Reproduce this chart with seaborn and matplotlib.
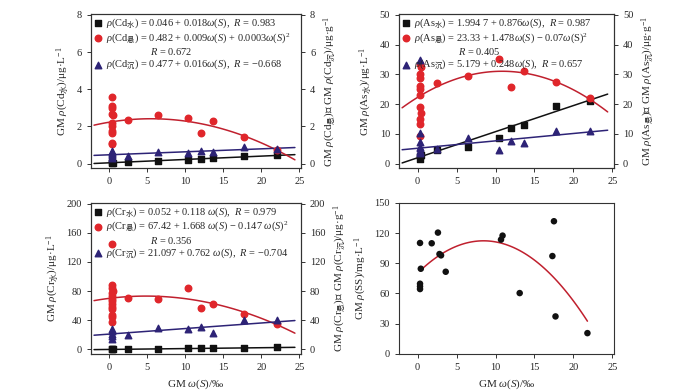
import matplotlib
matplotlib.use("Agg")
import matplotlib.pyplot as plt
from matplotlib.lines import Line2D
import seaborn as sns
import pandas as pd

# ---- data ----
# Cd panel
cd_water_x = [0.3, 0.4, 0.5, 2.5, 6.4, 10.4, 12.0, 13.6, 17.7, 22.1]
cd_water_y = [0.05, 0.08, 0.06, 0.10, 0.16, 0.22, 0.26, 0.30, 0.42, 0.45]
cd_susp_x = [0.3, 0.3, 0.3, 0.4, 0.5, 0.3, 0.3, 0.4, 0.3, 0.3, 0.4,
             2.5, 6.4, 10.4, 12.0, 13.6, 17.7, 22.1]
cd_susp_y = [3.59, 3.10, 3.00, 2.65, 2.60, 2.20, 2.00, 1.75, 1.66, 1.10, 1.05,
             2.34, 2.60, 2.43, 1.64, 2.27, 1.43, 0.75]
cd_sed_x = [0.3, 0.3, 0.3, 0.4, 0.3, 0.3, 0.4, 2.5, 6.4, 10.4, 12.0, 13.6, 17.7, 22.1]
cd_sed_y = [0.70, 0.62, 0.55, 0.50, 0.45, 0.35, 0.30, 0.40, 0.65, 0.58, 0.68, 0.62, 0.87, 0.80]

# As panel
as_water_x = [0.3, 0.3, 0.4, 2.5, 6.4, 10.4, 12.0, 13.6, 17.7, 22.1]
as_water_y = [1.4, 2.5, 3.0, 4.6, 5.5, 8.7, 11.9, 13.1, 19.4, 21.1]
as_susp_x = [0.3, 0.4, 0.3, 0.3, 0.3, 0.3, 0.3, 0.3, 0.4, 0.3, 0.3, 0.3,
             2.5, 6.4, 10.4, 12.0, 13.6, 17.7, 22.1]
as_susp_y = [33.5, 32.4, 30.0, 28.7, 26.0, 25.2, 23.2, 19.0, 17.1, 14.9, 13.3, 9.2,
             27.0, 29.5, 35.2, 25.9, 31.1, 27.3, 22.1]
as_sed_x = [0.3, 0.3, 0.3, 0.3, 0.3, 0.3, 0.3, 0.3, 2.5, 6.4, 10.4, 12.0, 13.6, 17.7, 22.1]
as_sed_y = [34.7, 10.3, 7.3, 5.7, 5.2, 4.4, 3.8, 3.6, 5.0, 8.7, 4.6, 7.6, 7.0, 11.1, 11.1]

# Cr panel
cr_water_x = [0.3, 0.4, 0.5, 2.5, 6.4, 10.4, 12.0, 13.6, 17.7, 22.1]
cr_water_y = [0.4, 0.6, 0.5, 0.5, 0.8, 1.5, 1.5, 1.7, 2.3, 3.0]
cr_susp_x = [0.3, 0.3, 0.3, 0.5, 0.3, 0.3, 0.3, 0.3, 0.3, 0.3, 0.3, 0.3, 0.4, 0.3,
             2.5, 6.4, 10.4, 12.0, 13.6, 17.7, 22.1]
cr_susp_y = [145, 88, 84.6, 80, 78, 73.5, 68.7, 66, 62.5, 58, 56, 47, 44, 37.4,
             70.5, 68.7, 84.6, 57, 62.5, 49.3, 34.8]
cr_sed_x = [0.3, 0.3, 0.3, 0.3, 0.3, 2.5, 6.4, 10.4, 12.0, 13.6, 17.7, 22.1]
cr_sed_y = [28, 25, 20.7, 18.5, 14, 19.4, 29.5, 28.2, 30.8, 22.9, 40.5, 40.5]

# SS panel
ss_x = [0.3, 1.8, 2.6, 2.8, 3.0, 0.4, 3.6, 0.3, 0.3, 0.3, 10.7, 10.9, 13.1, 17.5, 17.3, 17.7, 21.8]
ss_y = [110.2, 109.9, 120.5, 99.2, 97.9, 84.6, 81.6, 69.7, 67.0, 64.4, 113.5, 117.5, 60.4,
        131.8, 97.2, 37.2, 20.6]

# linear fits as printed in the legends (intercept, slope)
cd_water_fit = (0.046, 0.018)
cd_sed_fit = (0.477, 0.016)
as_water_fit = (1.9947, 0.876)
as_sed_fit = (5.179, 0.248)
cr_water_fit = (0.052, 0.118)
cr_sed_fit = (21.097, 0.762)
fit_x = [-2.0, 24.4]

cd_labels = [r"$\rho$(Cd$_{\mathsf{水}}$) = 0.046 + 0.018$\omega(S)$,  $R$ = 0.983",
             r"$\rho$(Cd$_{\mathsf{悬}}$) = 0.482 + 0.009$\omega(S)$ + 0.0003$\omega(S)^2$",
             r"                 $R$ = 0.672",
             r"$\rho$(Cd$_{\mathsf{沉}}$) = 0.477 + 0.016$\omega(S)$,  $R$ = −0.668"]
as_labels = [r"$\rho$(As$_{\mathsf{水}}$) = 1.994 7 + 0.876$\omega(S)$,  $R$ = 0.987",
             r"$\rho$(As$_{\mathsf{悬}}$) = 23.33 + 1.478$\omega(S)$ − 0.07$\omega$(S)$^2$",
             r"                 $R$ = 0.405",
             r"$\rho$(As$_{\mathsf{沉}}$) = 5.179 + 0.248$\omega(S)$,  $R$ = 0.657"]
cr_labels = [r"$\rho$(Cr$_{\mathsf{水}}$) = 0.052 + 0.118 $\omega(S)$,  $R$ = 0.979",
             r"$\rho$(Cr$_{\mathsf{悬}}$) = 67.42 + 1.668 $\omega(S)$ − 0.147 $\omega(S)^2$",
             r"                 $R$ = 0.356",
             r"$\rho$(Cr$_{\mathsf{沉}}$) = 21.097 + 0.762 $\omega(S)$,  $R$ = −0.704"]

sns.set_style("ticks")
plt.rcParams["font.family"] = ["Liberation Serif", "Noto Sans CJK SC"]
plt.rcParams["mathtext.fontset"] = "custom"
plt.rcParams["mathtext.rm"] = "Liberation Serif"
plt.rcParams["mathtext.it"] = "Liberation Serif:italic"
plt.rcParams["mathtext.sf"] = "Noto Sans CJK SC"
plt.rcParams["axes.edgecolor"] = "#333333"
plt.rcParams["axes.linewidth"] = 0.8

BLACK = "#111111"
RED = "#e0262b"
RED_LINE = "#c0202e"
NAVY = "#2d2376"
XLIM = (-2.4, 25.2)


def metal_panel(ax, metal, water, susp, sed, wfit, sfit, ymax, ystep, labels, xlabel):
    ax2 = ax.twinx()
    for a in (ax, ax2):
        a.set_xlim(fit_x[0], fit_x[1])
    wdf = pd.DataFrame({"x": water[0], "y": water[1]})
    sdf = pd.DataFrame({"x": susp[0], "y": susp[1]})
    ddf = pd.DataFrame({"x": sed[0], "y": sed[1]})
    ax.plot(fit_x, [wfit[0] + wfit[1] * v for v in fit_x], color=BLACK, lw=1.1)
    sns.regplot(data=sdf, x="x", y="y", ax=ax2, scatter=False, ci=None, truncate=False, order=2,
                line_kws=dict(color=RED_LINE, lw=1.1))
    ax2.plot(fit_x, [sfit[0] + sfit[1] * v for v in fit_x], color=NAVY, lw=1.1)
    h1 = ax.scatter(wdf.x, wdf.y, marker="s", s=16, color=BLACK, zorder=4)
    h2 = ax2.scatter(sdf.x, sdf.y, marker="o", s=22, color=RED, zorder=4)
    h3 = ax2.scatter(ddf.x, ddf.y, marker="^", s=22, color=NAVY, zorder=4)
    blank = Line2D([], [], linestyle="none")
    pad = ymax * 0.03
    for a in (ax, ax2):
        a.set_xlim(*XLIM)
        a.set_ylim(-pad, ymax * 1.005)
        a.set_yticks(range(0, ymax + 1, ystep))
        a.tick_params(labelsize=7.5, length=3, width=0.7, color="#333333")
    ax.set_xticks(range(0, 26, 5))
    ax.set_xlabel(xlabel, fontsize=8)
    ax2.set_xlabel("")
    ax.set_ylabel(r"GM $\rho$(%s$_{\mathsf{水}}$)/μg·L$^{-1}$" % metal, fontsize=8, labelpad=4)
    ax2.set_ylabel(r"GM $\rho$(%s$_{\mathsf{悬}}$)或 GM $\rho$(%s$_{\mathsf{沉}}$)/μg·g$^{-1}$" % (metal, metal),
                   fontsize=8, labelpad=4)
    ax2.legend(handles=[h1, h2, blank, h3], labels=labels, loc="upper left",
               bbox_to_anchor=(0.0, 1.0), frameon=False,
               fontsize=7.5, handlelength=0.8, handletextpad=0.4, labelspacing=0.05,
               borderaxespad=0.15, borderpad=0.1)


fig = plt.figure(figsize=(7, 3.91), dpi=100)
ax_cd = fig.add_axes([0.13, 0.570, 0.30, 0.394])
ax_as = fig.add_axes([0.570, 0.570, 0.307, 0.394])
ax_cr = fig.add_axes([0.13, 0.095, 0.30, 0.386])
ax_ss = fig.add_axes([0.570, 0.095, 0.307, 0.386])

metal_panel(ax_cd, "Cd", (cd_water_x, cd_water_y), (cd_susp_x, cd_susp_y), (cd_sed_x, cd_sed_y),
            cd_water_fit, cd_sed_fit, 8, 2, cd_labels, "")
metal_panel(ax_as, "As", (as_water_x, as_water_y), (as_susp_x, as_susp_y), (as_sed_x, as_sed_y),
            as_water_fit, as_sed_fit, 50, 10, as_labels, "")
metal_panel(ax_cr, "Cr", (cr_water_x, cr_water_y), (cr_susp_x, cr_susp_y), (cr_sed_x, cr_sed_y),
            cr_water_fit, cr_sed_fit, 200, 40, cr_labels, r"GM $\omega(S)$/‰")

# SS panel
ssdf = pd.DataFrame({"x": ss_x, "y": ss_y})
sns.regplot(data=ssdf, x="x", y="y", ax=ax_ss, scatter=False, ci=None, order=2,
            line_kws=dict(color=RED_LINE, lw=1.1))
sns.scatterplot(data=ssdf, x="x", y="y", ax=ax_ss, color=BLACK, s=22, edgecolor="none", zorder=4)
ax_ss.set_xlim(*XLIM)
ax_ss.set_ylim(0, 150)
ax_ss.set_yticks(range(0, 151, 30))
ax_ss.set_xticks(range(0, 26, 5))
ax_ss.tick_params(labelsize=7.5, length=3, width=0.7, color="#333333")
ax_ss.set_xlabel(r"GM $\omega(S)$/‰", fontsize=8)
ax_ss.set_ylabel(r"GM $\rho$(SS)/mg·L$^{-1}$", fontsize=8, labelpad=4)

fig.savefig("out.png", dpi=100)
